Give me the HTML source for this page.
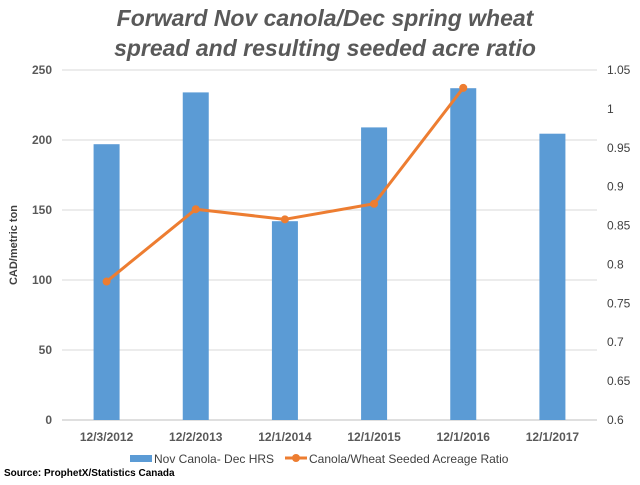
<!DOCTYPE html>
<html><head><meta charset="utf-8"><style>
body{margin:0;background:#fff;font-family:"Liberation Sans",sans-serif}
svg text{font-family:"Liberation Sans",sans-serif}
</style></head><body>
<svg id="c" width="640" height="480" xmlns="http://www.w3.org/2000/svg">
<text x="325" y="26" text-anchor="middle" font-size="23" font-style="italic" font-weight="bold" fill="#595959">Forward Nov canola/Dec spring wheat</text>
<text x="325" y="56" text-anchor="middle" font-size="23" font-style="italic" font-weight="bold" fill="#595959">spread and resulting seeded acre ratio</text>
<g id="grid"></g><g id="bars"></g><g id="line"></g><g id="axes"></g>
<text transform="translate(17,245) rotate(-90)" text-anchor="middle" font-size="11" font-weight="bold" fill="#404040">CAD/metric ton</text>
<rect x="130" y="455" width="22" height="7" fill="#5b9bd5"/>
<text x="154" y="463" font-size="12" fill="#404040">Nov Canola- Dec HRS</text>
<line x1="285" y1="458" x2="307" y2="458" stroke="#ed7d31" stroke-width="3"/>
<circle cx="296" cy="458" r="4" fill="#ed7d31"/>
<text x="309" y="463" font-size="12" fill="#404040">Canola/Wheat Seeded Acreage Ratio</text>
<text x="4" y="476" font-size="10" font-weight="bold" fill="#000">Source: ProphetX/Statistics Canada</text>
</svg>
<script>
const categories=["12/3/2012","12/2/2013","12/1/2014","12/1/2015","12/1/2016","12/1/2017"];
const spreadValues=[197,234,142,209,237,204.5];
const ratioValues=[0.778,0.871,0.858,0.878,1.027];
const leftTicks=[0,50,100,150,200,250];
const rightTicks=[0.6,0.65,0.7,0.75,0.8,0.85,0.9,0.95,1,1.05];
const NS="http://www.w3.org/2000/svg";
const X0=62,X1=597,Y0=420,Y1=70;
const step=(X1-X0)/categories.length;
const xC=i=>X0+step*(i+0.5);
const yL=v=>Y0-(v-0)/(250-0)*(Y0-Y1);
const yR=v=>Y0-(v-0.6)/(1.05-0.6)*(Y0-Y1);
function mk(t,a,p){const e=document.createElementNS(NS,t);for(const k in a)e.setAttribute(k,a[k]);p.appendChild(e);return e;}
const grid=document.getElementById('grid'),bars=document.getElementById('bars'),line=document.getElementById('line'),axes=document.getElementById('axes');
leftTicks.forEach(v=>{
 const g=mk('line',{x1:X0,x2:X1,y1:yL(v),y2:yL(v),stroke:v===0?'#bfbfbf':'#d9d9d9','stroke-width':1},grid);
 
 
 const t=mk('text',{x:X0-10,y:yL(v)+4,'text-anchor':'end','font-size':12,'font-weight':'bold',fill:'#595959'},axes);
 t.textContent=v;
 
 
});
rightTicks.forEach(v=>{
 const t=mk('text',{x:X1+10,y:yR(v)+4,'font-size':12,fill:'#404040'},axes);
 t.textContent=String(+v.toFixed(2));
 
 
});
categories.forEach((c,i)=>{
 const t=mk('text',{x:xC(i),y:Y0+21,'text-anchor':'middle','font-size':12,'font-weight':'bold',fill:'#595959'},axes);
 t.textContent=c;
 
 
});
spreadValues.forEach((v,i)=>{
 const r=mk('rect',{x:xC(i)-13,y:yL(v),width:26,height:yL(0)-yL(v),fill:'#5b9bd5'},bars);
 
 
});
const pts=ratioValues.map((v,i)=>xC(i)+','+yR(v)).join(' ');
const pl=mk('polyline',{points:pts,fill:'none',stroke:'#ed7d31','stroke-width':3,'stroke-linejoin':'round'},line);


ratioValues.forEach((v,i)=>{
 const c=mk('circle',{cx:xC(i),cy:yR(v),r:4,fill:'#ed7d31'},line);
 
 
});
</script>
</body></html>
